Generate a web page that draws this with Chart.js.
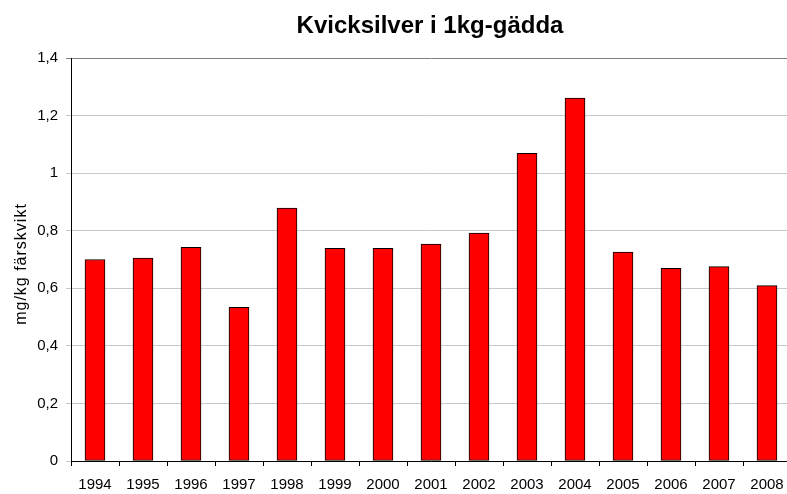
<!DOCTYPE html>
<html>
<head>
<meta charset="utf-8">
<script src="https://cdn.jsdelivr.net/npm/chart.js@4"></script>
<style>
  html, body { margin: 0; padding: 0; background: #fff; overflow: hidden; }
  #wrap { position: relative; width: 860px; height: 494px; }
</style>
</head>
<body>
<div id="wrap"><canvas id="chart"></canvas></div>
<script>
// ===== DATA =====
const years = ["1994", "1995", "1996", "1997", "1998", "1999", "2000", "2001",
  "2002", "2003", "2004", "2005", "2006", "2007", "2008"];
const mercury = [0.70, 0.705, 0.742, 0.534, 0.879, 0.739, 0.739, 0.754,
  0.792, 1.069, 1.261, 0.726, 0.669, 0.675, 0.609];
const yMin = 0;
const yMax = 1.4;
const yStep = 0.2;
const chartTitle = "Kvicksilver i 1kg-gädda";
const yTitle = "mg/kg färskvikt";

const font = "'Liberation Sans', Arial, sans-serif";

// Title and y-axis title drawn by hand so they sit where the original has them
const textPlugin = {
  id: "texts",
  afterDraw(chart) {
    const ctx = chart.ctx;
    ctx.save();
    ctx.fillStyle = "#000";
    ctx.textAlign = "center";
    ctx.textBaseline = "alphabetic";
    ctx.font = "bold 24px " + font;
    ctx.fillText(chartTitle, 430, 32.5);

    ctx.translate(26, 264);
    ctx.rotate(-Math.PI / 2);
    ctx.font = "16px " + font;
    if ("letterSpacing" in ctx) ctx.letterSpacing = "1px";
    ctx.fillText(yTitle, 0, 0);
    ctx.restore();
  },
};

new Chart(document.getElementById("chart").getContext("2d"), {
  type: "bar",
  data: {
    labels: years,
    datasets: [
      {
        data: mercury,
        backgroundColor: "#ff0000",
        borderColor: "#000000",
        borderWidth: 1,
        borderSkipped: false,
        barThickness: 20,
      },
    ],
  },
  plugins: [textPlugin],
  options: {
    responsive: true,
    maintainAspectRatio: false,
    animation: false,
    layout: { padding: { left: 0, right: 69, top: 58, bottom: 0 } },
    plugins: {
      legend: { display: false },
      tooltip: { enabled: false },
      title: { display: false },
    },
    scales: {
      x: {
        offset: true,
        grid: {
          display: true,
          offset: true,
          drawOnChartArea: false,
          drawTicks: true,
          tickLength: 5,
          color: "#000",
        },
        border: { color: "#000", width: 1 },
        ticks: {
          color: "#000",
          font: { family: font, size: 15 },
          padding: 10,
          maxRotation: 0,
          autoSkip: false,
        },
        afterFit: (scale) => { scale.height = 33; },
      },
      y: {
        min: yMin,
        max: yMax,
        grid: {
          color: (ctx) => (ctx.tick && ctx.tick.value >= yMax ? "#808080" : "#c8c8c8"),
          tickLength: 5,
        },
        border: { color: "#000", width: 1 },
        ticks: {
          stepSize: yStep,
          color: "#000",
          font: { family: font, size: 15 },
          padding: 8,
          callback: (value) => String(Math.round(value * 10) / 10).replace(".", ","),
        },
        afterFit: (scale) => { scale.width = 71; },
      },
    },
  },
});
</script>
</body>
</html>
